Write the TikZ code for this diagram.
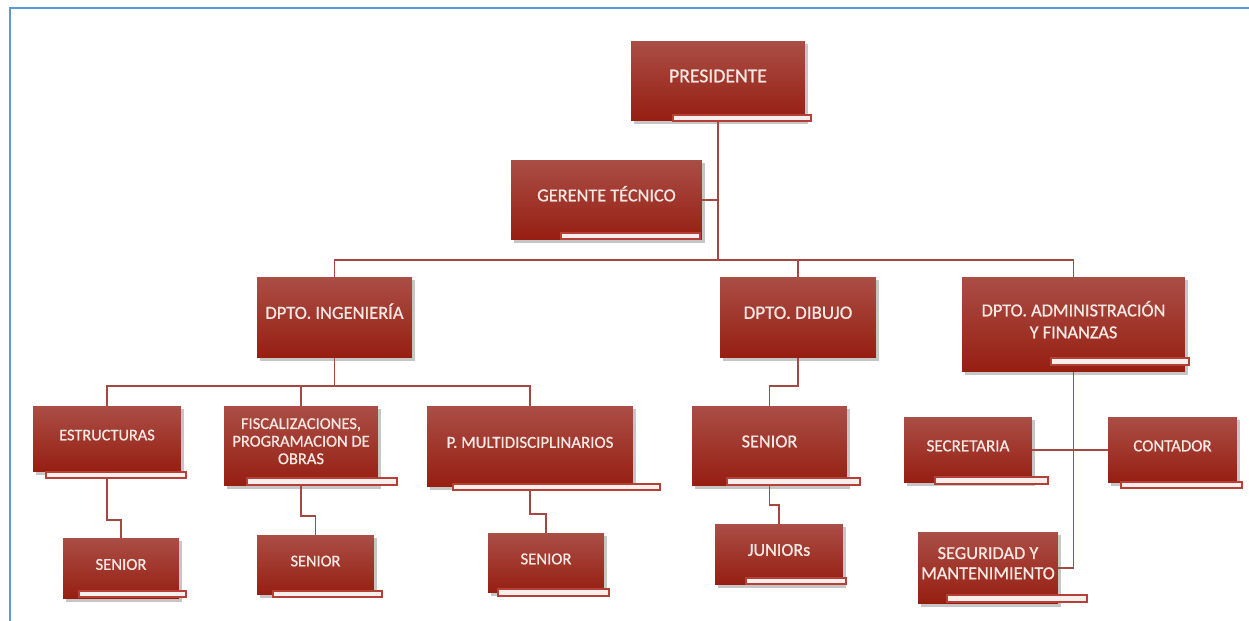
\documentclass[tikz,border=0pt]{standalone}
\usepackage{fontspec}
\setmainfont{Carlito}
\newfontfamily\orgfont{Carlito}[FakeBold=0.8]
\usetikzlibrary{shadows}
\definecolor{chartframe}{RGB}{91, 155, 213}
\definecolor{boxtop}{RGB}{170, 78, 70}
\definecolor{boxmid}{RGB}{160, 38, 24}
\definecolor{boxbottom}{RGB}{150, 30, 17}
\definecolor{boxtext}{RGB}{248, 232, 228}
\definecolor{linkred}{RGB}{165, 72, 66}
\definecolor{barfill}{RGB}{248, 238, 236}
\definecolor{baredge}{RGB}{182, 64, 56}

\tikzset{
  orgbox/.style={rectangle, top color=boxtop, middle color=boxmid, bottom color=boxbottom,
                 text=boxtext, align=center, font=\orgfont\fontsize{#1}{12.5}\selectfont,
                 inner sep=0pt, text height=7.5pt, text depth=6pt,
                 drop shadow={shadow xshift=1.5pt, shadow yshift=-1.8pt, opacity=0.45}},
  orgbox/.default=10.8,
  orgmulti/.style={orgbox=#1, text height={}, text depth=5.5pt},
  orgmulti/.default=10.8,
  orglink/.style={draw=linkred, line width=1.1pt},
  orgbar/.style={draw=baredge, fill=barfill, line width=0.6pt},
}

\begin{document}
\begin{tikzpicture}[x=0.02cm, y=-0.02cm]
            % Frame to ensure alignment:
            \useasboundingbox                                   (   0,   0) rectangle (1249, 621);
            \draw[chartframe, line width=1.2pt]                 (  10, 621) -- (10, 8) -- (1249, 8);

            % Top of the chart:
            \node[orgbox=11.2, minimum width=3.48cm, minimum height=1.60cm] (pres)    at ( 718.0,  81.0) {PRESIDENTE};
            \node[orgbox=10.4, minimum width=3.82cm, minimum height=1.60cm] (gerente) at ( 606.5, 200.0) {GERENTE TÉCNICO};

            % Departments:
            \node[orgbox=10.5, minimum width=3.10cm, minimum height=1.62cm] (ing)     at ( 334.5, 317.5) {DPTO. INGENIERÍA};
            \node[orgbox=10.8, minimum width=3.12cm, minimum height=1.62cm] (dib)     at ( 798.0, 317.5) {DPTO. DIBUJO};
            \node[orgmulti=10.4, minimum width=4.46cm, minimum height=1.90cm] (adm)   at (1073.5, 324.5) {DPTO. ADMINISTRACIÓN\\Y FINANZAS};

            % Ingenieria:
            \node[orgbox=9.3, minimum width=2.96cm, minimum height=1.32cm]  (estr)    at ( 107.0, 439.0) {ESTRUCTURAS};
            \node[orgmulti, minimum width=3.08cm, minimum height=1.60cm,
                  font=\orgfont\fontsize{9.4}{10}\selectfont]                (fisc)    at ( 301.0, 446.0) {FISCALIZACIONES,\\PROGRAMACION DE\\OBRAS};
            \node[orgbox=9.6, minimum width=4.12cm, minimum height=1.62cm]  (multi)   at ( 530.0, 446.5) {P. MULTIDISCIPLINARIOS};
            \node[orgbox=9.5, minimum width=2.32cm, minimum height=1.22cm]  (senA)    at ( 121.0, 568.5) {SENIOR};
            \node[orgbox=9.3, minimum width=2.34cm, minimum height=1.20cm]  (senB)    at ( 315.5, 565.0) {SENIOR};
            \node[orgbox=9.5, minimum width=2.32cm, minimum height=1.20cm]  (senC)    at ( 546.0, 563.0) {SENIOR};

            % Dibujo:
            \node[orgbox=10.4, minimum width=3.10cm, minimum height=1.60cm] (senD)    at ( 769.5, 446.0) {SENIOR};
            \node[orgbox=10.3, minimum width=2.56cm, minimum height=1.22cm] (jun)     at ( 779.0, 554.5) {JUNIORs};

            % Administracion:
            \node[orgbox=9.7, minimum width=2.56cm, minimum height=1.32cm]  (sec)     at ( 968.0, 450.0) {SECRETARIA};
            \node[orgbox=9.6, minimum width=2.58cm, minimum height=1.32cm]  (cont)    at (1172.5, 450.0) {CONTADOR};
            \node[orgmulti, minimum width=2.80cm, minimum height=1.44cm,
                  font=\orgfont\fontsize{10.4}{11.5}\selectfont]             (seg)     at ( 988.0, 568.0) {SEGURIDAD Y\\MANTENIMIENTO};

            % Connectors:
            \coordinate (trunk)  at (718, 260);
            \coordinate (ingbus) at (334.5, 386);
            \draw[orglink] (pres.south)    -- (trunk);
            \draw[orglink] (gerente.east)  -- (gerente.east -| trunk);
            \draw[orglink] (ing.north)     |- (trunk) -| (adm.north);
            \draw[orglink] (trunk)         -| (dib.north);
            \draw[orglink] (ing.south)     -- (ingbus);
            \draw[orglink] (estr.north)    |- (ingbus) -| (multi.north);
            \draw[orglink] (fisc.north)    -- (fisc.north |- ingbus);
            \draw[orglink] (estr.south)    -- ++(0, 48) -| (senA.north);
            \draw[orglink] (fisc.south)    -- ++(0, 30) -| (senB.north);
            \draw[orglink] (multi.south)   -- ++(0, 27) -| (senC.north);
            \draw[orglink] (dib.south)     -- ++(0, 28) -| (senD.north);
            \draw[orglink] (senD.south)    -- ++(0, 19) -| (jun.north);
            \draw[orglink] (adm.south)     |- (seg.east);
            \draw[orglink] (sec.east)      -- (cont.west);

            % White bars under the boxes:
            \filldraw[orgbar] ( 673, 115) rectangle ( 811, 121);
            \filldraw[orgbar] ( 561, 233) rectangle ( 700, 239);
            \filldraw[orgbar] (1051, 358) rectangle (1189, 365);
            \filldraw[orgbar] (  46, 472) rectangle ( 186, 478);
            \filldraw[orgbar] ( 247, 478) rectangle ( 397, 485);
            \filldraw[orgbar] ( 453, 484) rectangle ( 660, 490);
            \filldraw[orgbar] (  79, 591) rectangle ( 186, 597);
            \filldraw[orgbar] ( 273, 591) rectangle ( 382, 597);
            \filldraw[orgbar] ( 498, 589) rectangle ( 609, 596);
            \filldraw[orgbar] ( 727, 478) rectangle ( 860, 485);
            \filldraw[orgbar] ( 746, 578) rectangle ( 846, 584);
            \filldraw[orgbar] ( 935, 477) rectangle (1048, 484);
            \filldraw[orgbar] (1121, 482) rectangle (1242, 488);
            \filldraw[orgbar] ( 947, 595) rectangle (1087, 602);
        \end{tikzpicture}
\end{document}
